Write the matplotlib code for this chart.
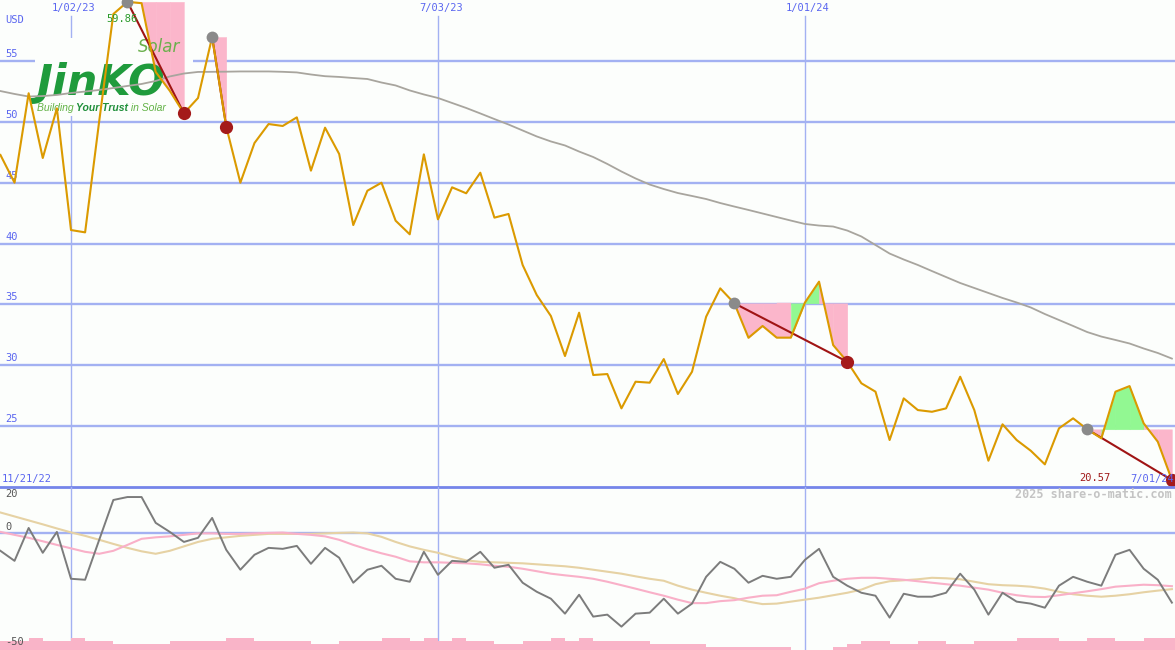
import matplotlib.pyplot as plt
from matplotlib.patches import Rectangle

# weekly data, week 1 = 11/28/22 ... week 84 = 7/01/24
weeks = list(range(1, 85))

close = [47.28, 45.00, 52.35, 47.03, 51.11, 41.11, 40.92, 50.07, 58.86, 59.86,
         59.75, 54.10, 52.55, 50.70, 51.96, 56.97, 49.60, 45.00, 48.26, 49.82,
         49.66, 50.37, 45.99, 49.52, 47.36, 41.52, 44.34, 45.00, 41.88, 40.76,
         47.33, 41.99, 44.62, 44.13, 45.82, 42.13, 42.43, 38.24, 35.77, 34.05,
         30.76, 34.32, 29.20, 29.28, 26.46, 28.65, 28.57, 30.51, 27.64, 29.47,
         33.99, 36.32, 35.09, 32.26, 33.23, 32.27, 32.27, 35.15, 36.87, 31.66,
         30.29, 28.52, 27.83, 23.86, 27.28, 26.32, 26.18, 26.46, 29.06, 26.32,
         22.16, 25.15, 23.86, 22.98, 21.86, 24.82, 25.64, 24.74, 24.00, 27.83,
         28.29, 25.23, 23.72, 20.57]

avg200 = [52.53, 52.29, 52.08, 52.12, 52.21, 52.37, 52.49, 52.62, 52.78, 52.95,
          53.11, 53.36, 53.73, 53.97, 54.10, 54.11, 54.12, 54.14, 54.14, 54.14,
          54.11, 54.06, 53.89, 53.75, 53.69, 53.60, 53.52, 53.23, 52.99, 52.58,
          52.25, 51.96, 51.55, 51.14, 50.69, 50.23, 49.78, 49.29, 48.80, 48.39,
          48.06, 47.56, 47.11, 46.54, 45.92, 45.35, 44.85, 44.48, 44.15, 43.91,
          43.66, 43.33, 43.04, 42.76, 42.47, 42.18, 41.89, 41.61, 41.48, 41.40,
          41.07, 40.58, 39.88, 39.18, 38.69, 38.24, 37.74, 37.25, 36.76, 36.35,
          35.94, 35.53, 35.16, 34.75, 34.21, 33.72, 33.23, 32.73, 32.36, 32.08,
          31.79, 31.38, 31.01, 30.55]

momentum = [-10.6, -16.7, 3.3, -11.8, 0.9, -27.6, -28.2, -3.9, 20.3, 22.1,
            22.1, 6.4, 0.9, -5.2, -2.7, 9.4, -10.0, -22.1, -13.0, -8.8,
            -9.4, -7.6, -18.5, -8.8, -14.8, -30.0, -22.1, -19.7, -27.6, -29.4,
            -11.2, -25.2, -16.7, -17.3, -11.2, -20.9, -19.1, -30.0, -35.5, -39.7,
            -48.8, -37.3, -50.6, -49.4, -56.7, -48.8, -48.2, -39.7, -48.8, -42.7,
            -26.4, -17.3, -21.5, -30.0, -25.8, -27.6, -26.4, -16.1, -9.4, -26.4,
            -31.8, -36.1, -37.9, -51.2, -36.7, -38.5, -38.5, -36.1, -24.5, -34.2,
            -49.4, -36.1, -41.5, -42.7, -45.2, -31.8, -26.4, -29.4, -31.8, -13.0,
            -10.0, -21.5, -28.2, -42.1]

osc_fast = [0.9, -0.9, -2.7, -4.8, -7.0, -9.1, -11.2, -12.4, -10.6, -7.0,
            -3.3, -2.4, -1.8, -0.9, 0.0, 0.0, -0.3, -0.3, 0.0, 0.3,
            0.5, -0.3, -0.9, -1.8, -3.9, -7.0, -9.7, -12.1, -14.2, -17.0,
            -17.6, -17.6, -17.9, -18.2, -18.8, -19.7, -20.3, -21.5, -23.0, -24.5,
            -25.5, -26.4, -27.6, -29.4, -31.5, -33.6, -35.8, -37.9, -40.3, -42.4,
            -42.4, -41.2, -40.6, -39.1, -37.9, -37.6, -35.5, -33.6, -30.3, -28.8,
            -27.6, -27.0, -27.0, -27.6, -28.2, -29.1, -30.0, -30.9, -31.8, -33.0,
            -34.2, -36.1, -37.6, -38.5, -38.7, -37.6, -36.4, -35.2, -33.9, -32.4,
            -31.8, -31.2, -31.5, -32.1]

osc_slow = [12.7, 10.3, 7.9, 5.5, 3.0, 0.6, -1.5, -3.9, -6.4, -8.8,
            -10.9, -12.4, -10.6, -7.9, -5.2, -3.3, -2.4, -1.5, -0.9, -0.3,
            -0.3, -0.3, -0.3, 0.0, 0.3, 0.5, 0.0, -2.1, -5.2, -7.9,
            -10.0, -11.8, -14.2, -16.4, -17.3, -17.6, -17.9, -18.2, -18.8, -19.4,
            -20.0, -20.9, -22.1, -23.3, -24.5, -26.1, -27.6, -28.8, -31.8, -34.2,
            -36.1, -37.9, -39.4, -41.5, -43.0, -42.7, -41.5, -40.3, -39.1, -37.6,
            -36.1, -34.2, -30.9, -29.1, -28.5, -27.9, -27.0, -27.3, -27.9, -29.4,
            -30.9, -31.5, -31.8, -32.4, -33.6, -35.5, -37.0, -37.9, -38.5, -37.9,
            -37.0, -35.8, -34.8, -33.9]

volume_level = [3, 3, 4, 3, 3, 4, 3, 3, 2, 2, 2, 2, 3, 3, 3, 3, 4, 4, 3, 3,
                3, 3, 2, 2, 3, 3, 3, 4, 4, 3, 4, 3, 4, 3, 3, 2, 2, 3, 3, 4,
                3, 4, 3, 3, 3, 3, 2, 2, 2, 2, 1, 1, 1, 1, 1, 1, 0, 0, 0, 1,
                2, 3, 3, 2, 2, 3, 3, 2, 2, 3, 3, 3, 4, 4, 4, 3, 3, 4, 4, 3,
                3, 4, 4, 4]

date_ticks = [6, 32, 58]
date_labels = ['1/02/23', '7/03/23', '1/01/24']
start_label = '11/21/22'
end_label = '7/01/24'
price_ticks = [25, 30, 35, 40, 45, 50, 55]
osc_labels = [20, 0]

swing_high = [10, 16, 53, 78]
swing_low = [14, 17, 61, 84]

# colours
BG = '#fcfefc'
GRID = '#a3b1f2'
BLUE_TXT = '#5a66f0'
PINK = '#fbb6cb'
GREEN = '#92f892'
MONO = 'DejaVu Sans Mono'

W, H = 1175, 650
fig = plt.figure(figsize=(W / 100, H / 100), dpi=100)
fig.patch.set_facecolor(BG)
split = 163 / H
ax = fig.add_axes([0, split, 1, 1 - split])
ax2 = fig.add_axes([0, 0, 1, split])
for a in (ax, ax2):
    a.set_axis_off()
    a.set_xlim(0.97, 84.22)
ax.set_ylim(20, 60.01)
ax2.set_ylim(-70.9, 28.2)

# grid
for p in price_ticks:
    ax.axhline(p, color=GRID, lw=1.7, zorder=1)
    ax.annotate(str(p), xy=(0, p), xycoords=ax.get_yaxis_transform(),
                xytext=(5, 2), textcoords='offset pixels', ha='left', va='bottom',
                family=MONO, size=7.5, color=BLUE_TXT)
ax.axhline(20, color='#7585ea', lw=2, zorder=6, clip_on=False)
for t, lab in zip(date_ticks, date_labels):
    ax.axvline(t, ymax=0.967, color=GRID, lw=1, zorder=1.2)
    ax2.axvline(t, color=GRID, lw=1, zorder=1)
    ax.annotate(lab, xy=(t, 1), xycoords=ax.get_xaxis_transform(),
                xytext=(3, -8), textcoords='offset pixels', ha='center', va='center',
                family=MONO, size=7.5, color=BLUE_TXT)
ax.annotate('USD', xy=(0, 1), xycoords='axes fraction', xytext=(5, -20),
            textcoords='offset pixels', ha='left', va='center',
            family=MONO, size=7.5, color=BLUE_TXT)
ax.annotate(start_label, xy=(0, 0), xycoords='axes fraction', xytext=(2, 8),
            textcoords='offset pixels', ha='left', va='center',
            family=MONO, size=7.5, color=BLUE_TXT)

# logo
ax.add_patch(Rectangle((35 / W, 1 - 116 / H), 158 / W, 78 / H, transform=fig.transFigure,
                       facecolor=BG, edgecolor='none', zorder=1.5))
ax.text(36 / W, 1 - 95 / H, 'JinKO', transform=fig.transFigure, ha='left', va='baseline',
        family='DejaVu Sans', weight='heavy', style='italic', size=31, color='#1f9b3c',
        zorder=2.2)
ax.text(138 / W, 1 - 52 / H, 'Solar', transform=fig.transFigure, ha='left', va='baseline',
        family='DejaVu Sans', style='italic', size=12, color='#6ab04c', zorder=2.2)
t1 = ax.text(37 / W, 1 - 111 / H, 'Building ', transform=fig.transFigure, ha='left',
             va='baseline', family='Liberation Sans', style='italic', size=7.5,
             color='#62b246', zorder=2.2)
t2 = ax.annotate('Your Trust', xy=(1, 0), xycoords=t1, ha='left', va='bottom',
                 family='Liberation Sans', style='italic', weight='bold', size=7.5,
                 color='#1f8f3a', zorder=2.2)
ax.annotate(' in Solar', xy=(1, 0), xycoords=t2, ha='left', va='bottom',
            family='Liberation Sans', style='italic', size=7.5, color='#62b246', zorder=2.2)

# swing fills and trend lines
for h, l in zip(swing_high, swing_low):
    level = close[h - 1]
    for w in range(h, l):
        col = GREEN if close[w] >= level else PINK
        ax.fill_between([w, w + 1], level, [close[w - 1], close[w]],
                        facecolor=col, edgecolor=col, lw=0.3, zorder=2)
    ax.plot([h, l], [close[h - 1], close[l - 1]], color='#a01414', lw=1.5, zorder=3.5)

ax.plot(weeks, avg200, color='#a8a59e', lw=1.3, zorder=3)
ax.plot(weeks, close, color='#db9a00', lw=1.5, zorder=4)

for h, l in zip(swing_high, swing_low):
    ax.plot(h, close[h - 1], 'o', ms=8.5, color='#8a8a8a', mec='none', zorder=5, clip_on=False)
    ax.plot(l, close[l - 1], 'o', ms=9.5, color='#a41a1a', mec='none', zorder=5, clip_on=False)

ax.annotate(f'{close[swing_high[0] - 1]:.2f}', xy=(swing_high[0], close[swing_high[0] - 1]),
            xytext=(-6, -17), textcoords='offset pixels', ha='center', va='center',
            family=MONO, size=7.5, color='#2a9a2a', zorder=6)
ax.annotate(f'{close[-1]:.2f}', xy=(weeks[-1], close[-1]),
            xytext=(-61, 2), textcoords='offset pixels', ha='right', va='center',
            family=MONO, size=7.5, color='#a01818', zorder=6)
ax.annotate(end_label, xy=(weeks[-1], 20), xytext=(-42, 8), textcoords='offset pixels',
            ha='left', va='center', family=MONO, size=7.5, color=BLUE_TXT, zorder=6,
            annotation_clip=False)

# lower panel
ax2.axhline(0, color=GRID, lw=1.7, zorder=1)
bar_unit = 3 / 1.65
ax2.bar(weeks, [v * bar_unit for v in volume_level], width=1, align='edge',
        bottom=-70.9, color='#f9b4c8', lw=0, zorder=1.5)
ax2.plot(weeks, osc_slow, color='#e6d2a4', lw=1.5, zorder=2)
ax2.plot(weeks, osc_fast, color='#f9b0c8', lw=1.5, zorder=2.5)
ax2.plot(weeks, momentum, color='#7c7c7c', lw=1.4, zorder=3)
for v in osc_labels:
    ax2.annotate(str(v), xy=(0, v), xycoords=ax2.get_yaxis_transform(),
                 xytext=(5, 1), textcoords='offset pixels', ha='left', va='bottom',
                 family=MONO, size=7.5, color='#555555')
ax2.annotate('-50', xy=(0, 0), xycoords='axes fraction', xytext=(5, 3),
             textcoords='offset pixels', ha='left', va='bottom',
             family=MONO, size=7.5, color='#555555', zorder=4)
fig.text(1172 / W, 1 - 495 / H, '2025 share-o-matic.com', ha='right', va='center',
         family=MONO, weight='bold', size=8.5, color='#c4c4c4')

fig.savefig('out.png', dpi=100, facecolor=BG)
